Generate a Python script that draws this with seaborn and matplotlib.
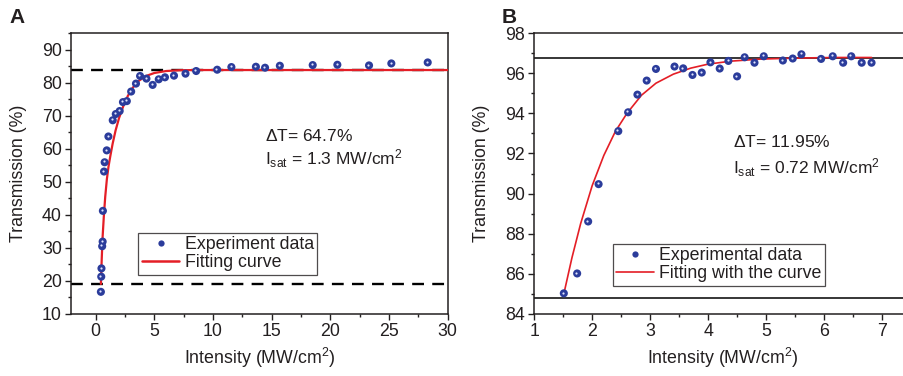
import numpy as np
import pandas as pd
import seaborn as sns
import matplotlib.pyplot as plt
from matplotlib.ticker import MultipleLocator
from matplotlib.lines import Line2D
from matplotlib.transforms import offset_copy

# panel A: measured points
a_int = [0.45, 0.48, 0.50, 0.56, 0.60, 0.62, 0.72, 0.77, 0.95, 1.09, 1.46, 1.72, 2.05, 2.33,
         2.66, 3.03, 3.44, 3.79, 4.33, 4.86, 5.38, 5.91, 6.68, 7.66, 8.57, 10.36, 11.57,
         13.66, 14.44, 15.7, 18.5, 20.6, 23.3, 25.2, 28.3]
a_trans = [16.7, 21.3, 23.8, 30.5, 31.9, 41.2, 53.1, 55.9, 59.5, 63.7, 68.6, 70.5, 71.4, 74.1,
           74.4, 77.3, 79.7, 82.0, 81.2, 79.3, 81.0, 81.6, 82.1, 82.7, 83.5, 83.9, 84.7,
           84.8, 84.5, 85.1, 85.3, 85.4, 85.2, 85.8, 86.1]
# panel A: fitted curve
a_fit_x = [0.45, 0.52, 0.60, 0.70, 0.82, 0.96, 1.10, 1.25, 1.45, 1.70, 2.00, 2.35, 2.75,
           3.20, 3.70, 4.30, 5.00, 6.00, 7.20, 9.00, 30.0]
a_fit_y = [19.1, 26.5, 33.5, 39.5, 45.5, 50.8, 54.6, 57.7, 61.5, 65.5, 69.3, 72.8, 76.0,
           78.6, 80.6, 82.0, 82.9, 83.5, 83.75, 83.8, 83.8]
a_levels = [83.8, 19.1]

# panel B
b_int = [1.51, 1.74, 1.93, 2.11, 2.45, 2.62, 2.78, 2.94, 3.10, 3.42, 3.57, 3.73, 3.89, 4.04,
         4.20, 4.35, 4.50, 4.63, 4.80, 4.96, 5.29, 5.46, 5.61, 5.95, 6.15, 6.33, 6.47,
         6.65, 6.82]
b_trans = [85.03, 86.02, 88.61, 90.47, 93.11, 94.05, 94.93, 95.63, 96.21, 96.33, 96.24, 95.91,
           96.03, 96.54, 96.23, 96.61, 95.84, 96.79, 96.52, 96.84, 96.63, 96.73, 96.94,
           96.71, 96.84, 96.52, 96.84, 96.52, 96.52]
b_fit_x = [1.51, 1.65, 1.80, 2.00, 2.20, 2.40, 2.60, 2.85, 3.10, 3.40, 3.70, 4.00, 4.40,
           4.90, 5.50, 6.20, 6.82]
b_fit_y = [85.0, 86.8, 88.5, 90.4, 91.9, 93.1, 94.0, 94.9, 95.5, 95.95, 96.25, 96.45, 96.6,
           96.7, 96.75, 96.78, 96.78]
b_levels = [96.75, 84.8]

sns.set_style("ticks")
plt.rcParams['font.family'] = ['Liberation Sans', 'DejaVu Sans']
plt.rcParams['mathtext.fontset'] = 'custom'
plt.rcParams['mathtext.rm'] = 'Liberation Sans'
plt.rcParams['mathtext.it'] = 'Liberation Sans:italic'
ink = '#231f20'
blue = '#2b3c9b'
red = '#e41e26'
fs = 12.8

fig = plt.figure(figsize=(9.04, 3.76), dpi=100)
axA = fig.add_axes([0.0785, 0.1649, 0.4167, 0.7473])
axB = fig.add_axes([0.591, 0.1649, 0.4167, 0.7473])

dfA = pd.DataFrame({'I': a_int, 'T': a_trans})
dfB = pd.DataFrame({'I': b_int, 'T': b_trans})
fitA = pd.DataFrame({'I': a_fit_x, 'T': a_fit_y})
fitB = pd.DataFrame({'I': b_fit_x, 'T': b_fit_y})

for y in a_levels:
    axA.axhline(y, color='black', lw=1.7, ls=(0, (5, 3.5)), zorder=1)
for y in b_levels:
    axB.axhline(y, color='black', lw=1.1, zorder=1)

sns.lineplot(data=fitA, x='I', y='T', ax=axA, color=red, lw=1.6, sort=False,
             estimator=None, zorder=3)
sns.lineplot(data=fitB, x='I', y='T', ax=axB, color=red, lw=1.2, sort=False,
             estimator=None, zorder=3)
sns.scatterplot(data=dfA, x='I', y='T', ax=axA, color=blue, s=34, edgecolor='none', zorder=4)
sns.scatterplot(data=dfB, x='I', y='T', ax=axB, color=blue, s=34, edgecolor='none', zorder=4)
# little highlight on each ball
for ax, df in [(axA, dfA), (axB, dfB)]:
    tr = offset_copy(ax.transData, fig=fig, x=-0.8, y=0.8, units='dots')
    ax.scatter(df['I'], df['T'], s=2.5, color='#dfe3ff', transform=tr, zorder=5, lw=0)

axA.set_xlim(-2.1, 30)
axA.set_ylim(10, 95)
axA.xaxis.set_major_locator(MultipleLocator(5))
axA.xaxis.set_minor_locator(MultipleLocator(2.5))
axA.yaxis.set_major_locator(MultipleLocator(10))
axA.yaxis.set_minor_locator(MultipleLocator(5))
axA.set_yticks(np.arange(10, 91, 10))

axB.set_xlim(1, 7.5)
axB.set_ylim(84, 98)
axB.xaxis.set_major_locator(MultipleLocator(1))
axB.xaxis.set_minor_locator(MultipleLocator(0.5))
axB.yaxis.set_major_locator(MultipleLocator(2))
axB.yaxis.set_minor_locator(MultipleLocator(1))

for ax in (axA, axB):
    for s in ax.spines.values():
        s.set_color(ink)
        s.set_linewidth(1.1)
    ax.tick_params(which='major', direction='out', length=4, width=1, colors=ink,
                   labelsize=fs, pad=2.5)
    ax.tick_params(which='minor', direction='out', length=2.5, width=1, colors=ink)
    ax.set_xlabel('Intensity (MW/cm$^2$)', fontsize=fs, color=ink)
    ax.set_ylabel('Transmission (%)', fontsize=fs, color=ink)
    ax.xaxis.set_label_coords(0.5, -0.115)
    ax.yaxis.set_label_coords(-0.118, 0.5)
axA.set_xticks(np.arange(0, 31, 5))
axB.set_xticks(np.arange(1, 8, 1))
axB.set_xlim(1, 7.5)

axA.text(0.515, 0.616, r'$\Delta$T= 64.7%', transform=axA.transAxes, fontsize=12.5,
         color=ink, va='baseline')
axA.text(0.515, 0.533, r'I$_{\rm sat}$ = 1.3 MW/cm$^2$', transform=axA.transAxes,
         fontsize=12.5, color=ink, va='baseline')
axB.text(0.528, 0.593, r'$\Delta$T= 11.95%', transform=axB.transAxes, fontsize=12.5,
         color=ink, va='baseline')
axB.text(0.528, 0.5, r'I$_{\rm sat}$ = 0.72 MW/cm$^2$', transform=axB.transAxes,
         fontsize=12.5, color=ink, va='baseline')

def add_legend(ax, labels, anchor, lw):
    h = [Line2D([], [], ls='none', marker='o', ms=4.5, color=blue, mec='none'),
         Line2D([], [], color=red, lw=lw)]
    leg = ax.legend(h, labels, loc='lower left', bbox_to_anchor=anchor, frameon=True,
                    fancybox=False, edgecolor=ink, fontsize=fs, handlelength=2.1,
                    handletextpad=0.3, borderpad=0.2, labelspacing=0.05,
                    borderaxespad=0)
    leg.get_frame().set_linewidth(0.9)
    for t in leg.get_texts():
        t.set_color(ink)

add_legend(axA, ['Experiment data', 'Fitting curve'], (0.179, 0.139), 1.8)
add_legend(axB, ['Experimental data', 'Fitting with the curve'], (0.208, 0.10), 1.2)

fig.text(0.011, 0.978, 'A', fontsize=15, fontweight='bold', va='top', color=ink)
fig.text(0.555, 0.978, 'B', fontsize=15, fontweight='bold', va='top', color=ink)

fig.savefig('out.png', dpi=100)
